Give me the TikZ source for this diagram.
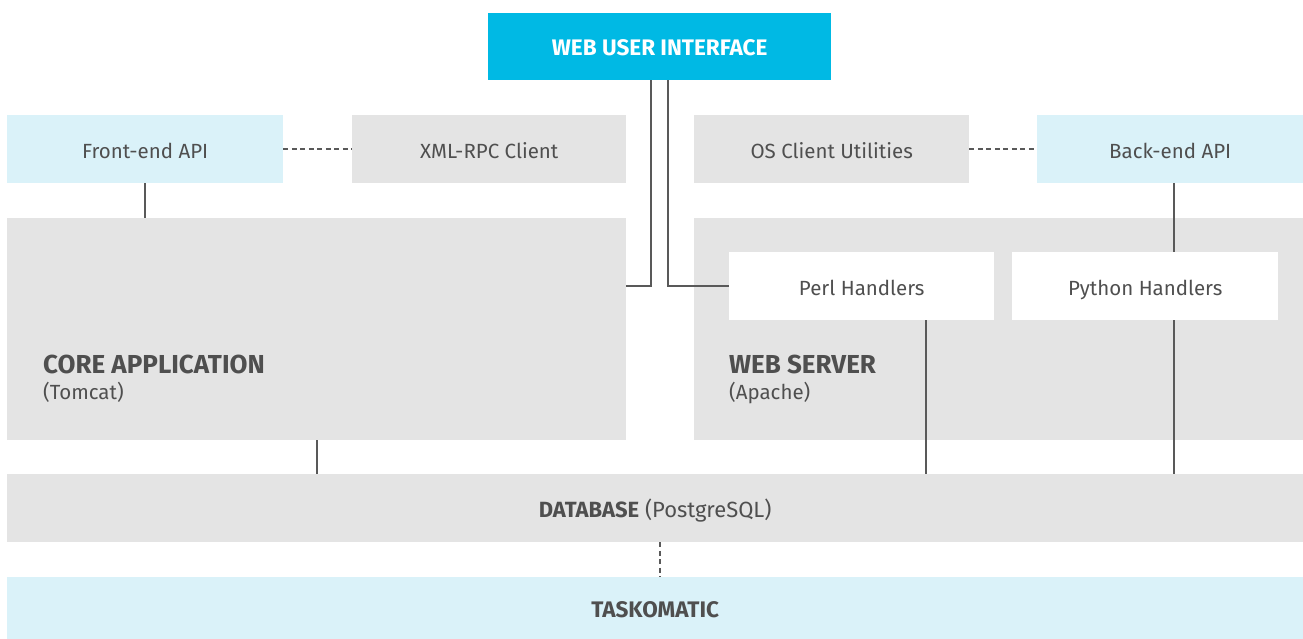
\documentclass[tikz,border=0pt]{standalone}
\usepackage{fontspec}
\setmainfont{Fira Sans}
\usetikzlibrary{positioning}

\definecolor{uiblue}{HTML}{00B9E4}
\definecolor{apiblue}{HTML}{DAF2F9}
\definecolor{boxgray}{HTML}{E4E4E4}
\definecolor{textgray}{HTML}{4F4F4F}
\definecolor{linegray}{HTML}{595959}

\begin{document}
\begin{tikzpicture}[x=1pt,y=-1pt,
    every node/.style={font=\fontsize{20.5}{24}\selectfont, text=textgray, inner sep=0pt},
    box/.style={rectangle, fill=boxgray, anchor=north west, text height=21pt, text depth=3pt},
    apibox/.style={box, fill=apiblue},
    hbox/.style={box, fill=white},
    link/.style={draw=linegray, line width=2pt},
    dashlink/.style={link, dash pattern=on 5pt off 3.5pt}]
  \useasboundingbox (0,0) rectangle (1303,639);

  % top row
  \node[box, fill=uiblue, minimum width=343pt, minimum height=67pt, text=white, font=\fontsize{22.5}{26}\selectfont\bfseries]
        (wui) at (488,13) {WEB USER INTERFACE};
  \node[apibox, minimum width=276pt, minimum height=68pt] (front)  at (7,115)    {Front-end API};
  \node[box,    minimum width=274pt, minimum height=68pt] (xmlrpc) at (352,115)  {XML-RPC Client};
  \node[box,    minimum width=275pt, minimum height=68pt] (osutil) at (694,115)  {OS Client Utilities};
  \node[apibox, minimum width=266pt, minimum height=68pt] (back)   at (1037,115) {Back-end API};

  % servers
  \node[box, minimum width=619pt, minimum height=222pt] (core) at (7,218)   {};
  \node[box, minimum width=609pt, minimum height=222pt] (web)  at (694,218) {};
  \node[anchor=west, align=left] (corelbl) at (43,379)
        {{\fontsize{26}{30}\selectfont\bfseries CORE APPLICATION}\\[2pt](Tomcat)};
  \node[anchor=west, align=left] (weblbl) at (729,379)
        {{\fontsize{26}{30}\selectfont\bfseries WEB SERVER}\\[2pt](Apache)};
  \node[hbox, minimum width=265pt, minimum height=68pt] (perl)   at (729,252)  {Perl Handlers};
  \node[hbox, minimum width=266pt, minimum height=68pt] (python) at (1012,252) {Python Handlers};

  % bottom
  \node[box, minimum width=1296pt, minimum height=68pt] (db) at (7,474)
        {\fontsize{22}{26}\selectfont\textbf{DATABASE} (PostgreSQL)};
  \node[apibox, minimum width=1296pt, minimum height=62pt, font=\fontsize{22.5}{26}\selectfont\bfseries]
        (task) at (7,577) {TASKOMATIC};

  % connectors
  \draw[link] ([xshift=-8.5pt]wui.south) |- (core.east |- perl.west);
  \draw[link] ([xshift=8.5pt]wui.south) |- (perl.west);
  \draw[link] (front.south) -- (front.south |- core.north);
  \draw[link] (core.south) -- (core.south |- db.north);
  \draw[link] ([xshift=4pt]back.south) -- ([xshift=4pt]back.south |- python.north);
  \draw[link] ([xshift=29pt]python.south) -- ([xshift=29pt]python.south |- db.north);
  \draw[link] ([xshift=64.5pt]perl.south) -- ([xshift=64.5pt]perl.south |- db.north);
  \draw[dashlink] (front.east) -- (xmlrpc.west);
  \draw[dashlink] (osutil.east) -- (back.west);
  \draw[dashlink] ([xshift=5pt]db.south) -- ([xshift=5pt]db.south |- task.north);
\end{tikzpicture}
\end{document}
